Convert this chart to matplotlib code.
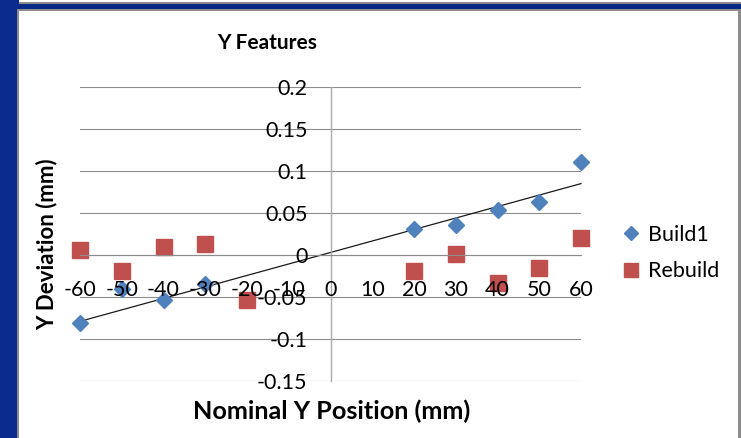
import matplotlib
matplotlib.use('Agg')
import matplotlib.pyplot as plt
from matplotlib.patches import Rectangle
from matplotlib.ticker import FuncFormatter

# measured Y deviation per nominal position
build1_x = [-60, -50, -40, -30, 20, 30, 40, 50, 60]
build1_y = [-0.081, -0.040, -0.054, -0.034, 0.031, 0.036, 0.054, 0.063, 0.111]
rebuild_x = [-60, -50, -40, -30, -20, 20, 30, 40, 50, 60]
rebuild_y = [0.006, -0.019, 0.009, 0.013, -0.054, -0.019, 0.001, -0.033, -0.015, 0.020]

# linear trend line for Build1
trend_x = [-60, 60]
trend_y = [-0.079, 0.085]

x_ticks = [-60, -50, -40, -30, -20, -10, 0, 10, 20, 30, 40, 50, 60]
y_ticks = [-0.15, -0.1, -0.05, 0, 0.05, 0.1, 0.15, 0.2]

W, H = 741, 438
plt.rcParams['font.family'] = ['Lato', 'DejaVu Sans']
fig = plt.figure(figsize=(W / 100, H / 100), dpi=100)
fig.patch.set_facecolor('white')


def band(x0, y0, w, h, color):
    # rectangle in pixel units, measured from the top-left corner
    fig.add_artist(Rectangle((x0 / W, 1 - (y0 + h) / H), w / W, h / H,
                             transform=fig.transFigure, facecolor=color,
                             edgecolor='none', zorder=-10))


# slide frame around the chart
band(0, 0, 19, H, '#0b2b8e')
band(19, 3.5, W - 19, 5, '#062a86')
band(19, 2.5, W - 19, 1.2, '#8c8c8c')
band(17, 8.5, W - 17, 2, '#8c8c8c')
band(17, 8.5, 2, H - 8, '#8c8c8c')
band(738, 8.5, 3, H - 8, '#8c8c8c')

ax = fig.add_axes([80 / W, 57 / H, 501 / W, 294 / H])
ax.set_xlim(-60, 60)
ax.set_ylim(-0.15, 0.2)
ax.set_xticks(x_ticks)
ax.set_yticks(y_ticks)
ax.yaxis.set_major_formatter(FuncFormatter(lambda v, p: '{:g}'.format(round(v, 2))))
ax.xaxis.set_major_formatter(FuncFormatter(lambda v, p: '{:g}'.format(v)))
ax.set_axisbelow(False)  # tick labels sit on top of the markers

for s in ['top', 'right']:
    ax.spines[s].set_visible(False)
ax.spines['left'].set_position(('data', 0))
ax.spines['bottom'].set_position(('data', 0))
ax.spines['left'].set_color('#ababab')
ax.spines['bottom'].set_color('#8c8c8c')
ax.spines['left'].set_linewidth(1.0)
ax.spines['bottom'].set_linewidth(0.8)

# horizontal gridlines kept underneath the markers
for yv in y_ticks:
    ax.axhline(yv, color='#8c8c8c', linewidth=0.8, zorder=1)

ax.tick_params(axis='both', length=0, labelsize=15.5, labelcolor='black')
ax.tick_params(axis='x', pad=18)
ax.tick_params(axis='y', pad=16.5)

ax.plot(trend_x, trend_y, color='#1a1a1a', linewidth=0.9, zorder=2.1,
        label='_nolegend_', clip_on=False)
ax.plot(build1_x, build1_y, linestyle='none', marker='D', markersize=8.2,
        color='#4f81bd', label='Build1', zorder=2.2, clip_on=False)
ax.plot(rebuild_x, rebuild_y, linestyle='none', marker='s', markersize=11,
        color='#c0504d', label='Rebuild', zorder=2.2, clip_on=False)

fig.text(267 / W, 1 - 43 / H, 'Y Features', ha='center', va='center',
         fontsize=15, fontweight='bold')
fig.text(332 / W, 1 - 411 / H, 'Nominal Y Position (mm)', ha='center',
         va='center', fontsize=18.2, fontweight='bold')
fig.text(47 / W, 1 - 244 / H, 'Y Deviation (mm)', ha='center', va='center',
         rotation=90, fontsize=16, fontweight='bold')

leg = ax.legend(loc='center left', bbox_to_anchor=(620 / W, 1 - 253 / H),
                bbox_transform=fig.transFigure, frameon=False, fontsize=15.5,
                handlelength=1.0, handletextpad=0.3, labelspacing=0.75,
                borderaxespad=0, borderpad=0)
for h in leg.legend_handles:
    h.set_markersize(h.get_markersize() * 0.9)

fig.savefig('out.png', dpi=100)
